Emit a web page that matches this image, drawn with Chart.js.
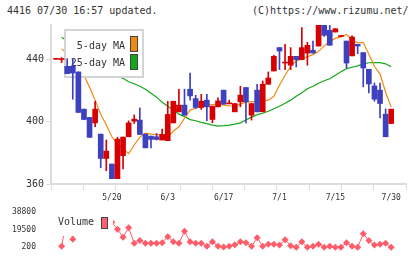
<!DOCTYPE html>
<html>
<head>
<meta charset="utf-8">
<script src="https://cdn.jsdelivr.net/npm/chart.js@4.4.1/dist/chart.umd.min.js"></script>
<style>
  html, body { margin: 0; padding: 0; background: #fff; }
  #wrap { position: relative; width: 420px; height: 259px; overflow: hidden; font-family: "DejaVu Sans Mono", monospace; color: #333; }
  .head { position: absolute; top: 6px; font-size: 10px; line-height: 10px; white-space: pre; }
</style>
</head>
<body>
<div id="wrap">
  <div class="head" style="left:7px">4416 07/30 16:57 updated.</div>
  <div class="head" style="left:252px">(C)https://www.rizumu.net/</div>
  <canvas id="priceChart" width="420" height="205" style="position:absolute;left:0;top:0"></canvas>
  <canvas id="volChart" width="420" height="59" style="position:absolute;left:0;top:200px"></canvas>
</div>
<script>
// daily candles, index 0 = first session shown, index 10 = 5/20
const opens  = [440,439.8,435.5,435.5,431.9,408,402.7,399.2,392,376.4,372.8,363.4,378.2,390.3,400.3,401,392,390.7,390.3,388.2,387.8,399.2,406.3,410.6,420.8,414.8,409.1,413.8,401.4,409.5,420.2,411.4,406.3,412.7,421.9,404.2,420.2,406.3,424,432.5,447.5,437.6,436.2,441.9,439.8,444,445.8,448.5,461.8,458.6,457.5,454.6,451.7,442.2,449.6,444.3,433.6,422.9,420.2,404.8,398.8];
const highs  = [440.3,441.1,440.4,440.4,431.9,408,402.7,413.1,392,388.2,372.8,390,390.1,400.5,404.3,408.8,392,390.7,392.4,395.2,413.1,413.1,420.8,420.8,431.2,416.9,417.6,417.6,409.9,415.2,420.2,413.8,411.6,422.7,421.9,411.6,424,426.1,431.9,442.5,447.5,449.6,447.5,441.9,460.3,450.9,451.7,462,462,461.8,459.6,455.2,451.7,455,449.6,444.3,433.6,424.8,424.8,408.2,408];
const lows   = [440,437.9,430.8,414.4,405.9,401.2,389.9,396.7,370.4,368.5,363.4,363.4,369.6,390.3,398.8,391.8,383.2,383.2,388.2,388.2,387.8,399.2,406.3,404.2,413.8,408.4,407.8,400.6,399.2,409.5,411.2,411.4,406.3,409.5,399.2,401,406.3,406.3,424,432.5,433.4,433.4,433.4,435.1,439.8,436.2,444,448.5,454.7,449,457.5,454.6,434.6,442.2,443.6,422.3,418.4,413.1,402.4,390.3,398.8];
const closes = [440.3,440.2,430.8,431.2,405.9,401.4,389.9,408,376.4,381.1,363.4,388.8,390.1,399.2,401.6,391.8,383.2,388.6,388.6,391.8,404.6,413.1,410.6,404.2,416.5,409.1,413.1,409.5,409.9,413.3,411.2,412,411.6,417,412.7,411.6,406.3,424,428,441.9,445.3,438,441.9,439.8,447.5,449,444,461.8,455.4,449,459.6,455.2,437.6,454.3,448.5,434.4,424.2,414.4,411.6,390.3,408];

// moving averages (null where no line is drawn)
const ma5  = [null,446.7,443.8,439.4,434.2,429.8,422.1,413.8,404.8,397.8,390.3,385.6,382.7,379.5,385,390.1,392.6,392,391.7,391.4,390.1,394,396.7,402.2,407.4,408.6,409.9,410.6,410.9,411.2,410.6,410.2,409.9,411.2,412.5,412.9,412.9,413.4,413.8,416.3,423.4,429.8,435.5,439,440,441.6,443,445.1,448.6,451.5,453.4,454.4,456,452.2,450.7,450.7,443.2,435.5,430.7,418.9,409.3];
const ma25 = [null,454.1,451.8,449.6,446.7,444.5,441.6,438.7,436.2,433.3,431,429.1,427.8,425.6,424.3,422.7,420.8,418.2,415.7,412.5,409.9,407.4,404.8,403.2,401.3,400.6,399.5,398.7,397.8,397.1,397.4,397.8,398.4,399.2,401,402.9,404.5,405.4,406.7,408.3,409.9,411.8,413.8,416.3,418.6,421.1,422.7,424.6,426.2,427.5,429.8,432,434,434.9,435.8,437.1,437.8,437.9,437.9,437.1,435.2];

const volumes = [null,1200,34000,9000,38800,26000,31000,19000,28000,21000,27300,19800,11000,21400,4400,7400,4400,4400,4400,5100,11600,6100,4400,17500,6100,4400,4400,1200,6100,1200,300,1200,2800,6100,5100,1200,10600,1200,3400,3400,2500,8400,1800,200,6100,200,1200,3400,200,1200,200,200,5100,1200,200,14900,7400,2500,3400,4400,200];

const dateIdx  = [10, 20, 30, 40, 50, 60];
const dateText = ['5/20', '6/3', '6/17', '7/1', '7/15', '7/30'];
const priceTicks = [360, 400, 440];
const volTicks = [200, 19500, 38800];

const RED = '#d60000', BLUE = '#3d41bf';
const X_MIN = -0.9, X_MAX = 62.65;
const markVals = [];
for (let k = 0; k <= 11; k++) markVals.push(X_MIN + k * (X_MAX - X_MIN) / 11);

const idx = opens.map((v, i) => i);
const candleColor = idx.map(i => closes[i] >= opens[i] ? RED : BLUE);

const priceKey = {
    id: 'priceKey',
    beforeDatasetDraw(chart, args) {
        if (args.index !== 2) return;
        const ctx = chart.ctx;
        ctx.save();
        ctx.fillStyle = '#fff';
        ctx.fillRect(65, 30, 78, 47);
        ctx.strokeStyle = '#d4d4d4';
        ctx.lineWidth = 2;
        ctx.strokeRect(65, 30, 78, 47);
        ctx.font = '10px "DejaVu Sans Mono"';
        ctx.fillStyle = '#333';
        ctx.textAlign = 'right';
        ctx.textBaseline = 'middle';
        ctx.fillText('5-day MA', 125, 46.5);
        ctx.fillText('25-day MA', 125, 63);
        ctx.lineWidth = 1;
        ctx.strokeStyle = '#444';
        ctx.fillStyle = '#f08a10';
        ctx.fillRect(130.5, 36.5, 7, 15);
        ctx.strokeRect(130.5, 36.5, 7, 15);
        ctx.fillStyle = '#12a81a';
        ctx.fillRect(130.5, 54.5, 7, 15);
        ctx.strokeRect(130.5, 54.5, 7, 15);
        ctx.restore();
    }
};

const volKey = {
    id: 'volKey',
    afterDatasetsDraw(chart) {
        const ctx = chart.ctx;
        ctx.save();
        ctx.fillStyle = '#fff';
        ctx.fillRect(52, 4, 61, 32);
        ctx.font = '10px "DejaVu Sans Mono"';
        ctx.fillStyle = '#333';
        ctx.textAlign = 'left';
        ctx.textBaseline = 'middle';
        ctx.fillText('Volume', 58, 22);
        ctx.fillStyle = '#ff6070';
        ctx.strokeStyle = '#444';
        ctx.lineWidth = 1;
        ctx.fillRect(101.5, 17.5, 6, 11);
        ctx.strokeRect(101.5, 17.5, 6, 11);
        ctx.restore();
    }
};

const pricectx = document.getElementById('priceChart').getContext('2d');
const priceChart = new Chart(pricectx, {
    type: 'bar',
    data: {
        datasets: [
            {
                type: 'line', label: '25-day MA', order: 4,
                data: idx.map(i => ({x: i, y: ma25[i]})),
                borderColor: '#12a81a', borderWidth: 1.2, pointRadius: 0, tension: 0
            },
            {
                type: 'line', label: '5-day MA', order: 3,
                data: idx.map(i => ({x: i, y: ma5[i]})),
                borderColor: '#f08a10', borderWidth: 1.2, pointRadius: 0, tension: 0
            },
            {
                label: 'wick', order: 2, grouped: false,
                data: idx.map(i => ({x: i, y: [lows[i], highs[i]]})),
                backgroundColor: candleColor, barThickness: 1, minBarLength: 1
            },
            {
                label: 'body', order: 1, grouped: false,
                data: idx.map(i => ({x: i, y: [opens[i], closes[i]]})),
                backgroundColor: candleColor, barThickness: 5, minBarLength: 1
            }
        ]
    },
    options: {
        responsive: false,
        animation: false,
        layout: { padding: { left: 0, right: 14, top: 25, bottom: 0 } },
        plugins: { legend: { display: false }, tooltip: { enabled: false } },
        scales: {
            x: {
                type: 'linear', min: X_MIN, max: X_MAX, offset: false,
                afterBuildTicks: (s) => {
                    s.ticks = markVals.map(v => ({value: v})).concat(dateIdx.map(v => ({value: v})));
                },
                afterFit: (s) => { s.height = 21; },
                ticks: {
                    autoSkip: false, maxRotation: 0, padding: 3,
                    font: { family: 'DejaVu Sans Mono', size: 8 }, color: '#333',
                    callback: (v) => { const k = dateIdx.indexOf(v); return k >= 0 ? dateText[k] : ''; }
                },
                grid: {
                    drawOnChartArea: false, tickLength: 6, offset: false,
                    color: (c) => (c.tick && dateIdx.includes(c.tick.value)) ? 'rgba(0,0,0,0)' : '#dcdcdc'
                },
                border: { color: '#dcdcdc', width: 2 }
            },
            y: {
                min: 360, max: 462,
                afterBuildTicks: (s) => { s.ticks = priceTicks.map(v => ({value: v})); },
                afterFit: (s) => { s.width = 51; },
                ticks: { padding: 2, font: { family: 'DejaVu Sans Mono', size: 10 }, color: '#333', callback: (v) => String(v) },
                grid: { drawOnChartArea: false, tickLength: 5, color: '#dcdcdc' },
                border: { color: '#dcdcdc', width: 2 }
            }
        }
    },
    plugins: [priceKey]
});

const volctx = document.getElementById('volChart').getContext('2d');
const volChart = new Chart(volctx, {
    type: 'line',
    data: {
        datasets: [
            {
                label: 'Volume',
                data: idx.map(i => ({x: i, y: volumes[i]})),
                borderColor: '#ff5c69', borderWidth: 1,
                pointStyle: 'rectRot', pointRadius: 3.5,
                pointBackgroundColor: '#ff5c69', pointBorderWidth: 0,
                spanGaps: false, tension: 0, clip: false
            }
        ]
    },
    options: {
        responsive: false,
        animation: false,
        layout: { padding: { left: 0, right: 14, top: 9, bottom: 10.7 } },
        plugins: { legend: { display: false }, tooltip: { enabled: false } },
        scales: {
            x: { type: 'linear', min: X_MIN, max: X_MAX, display: false },
            y: {
                min: 200, max: 38800,
                afterBuildTicks: (s) => { s.ticks = volTicks.map(v => ({value: v})); },
                afterFit: (s) => { s.width = 51; },
                ticks: { padding: 7, font: { family: 'DejaVu Sans Mono', size: 8 }, color: '#333', callback: (v) => String(v) },
                grid: { display: false },
                border: { display: false }
            }
        }
    },
    plugins: [volKey]
});
</script>
</body>
</html>
